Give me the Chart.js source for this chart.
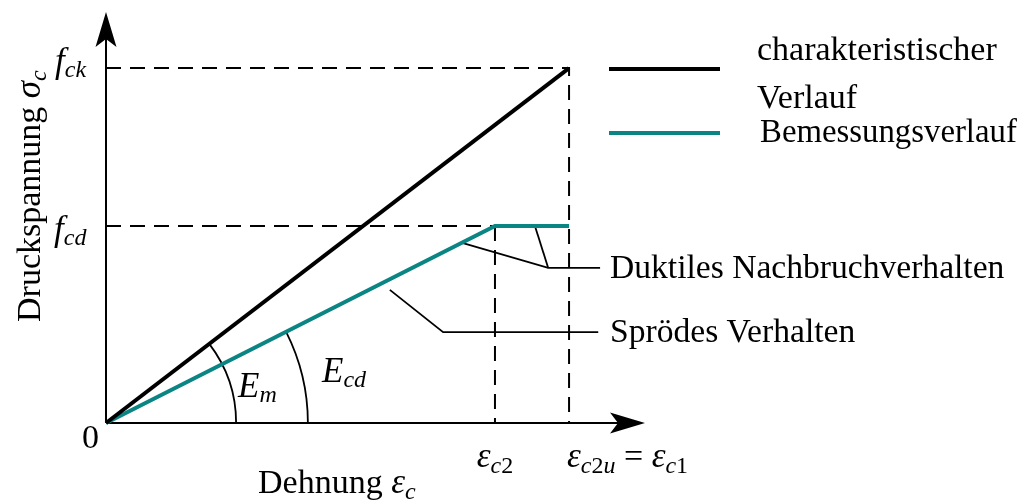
<!DOCTYPE html>
<html>
<head>
<meta charset="utf-8">
<script src="https://cdn.jsdelivr.net/npm/chart.js@4/dist/chart.umd.min.js"></script>
<style>
  html, body { margin: 0; padding: 0; background: #fff; }
  #wrap { width: 1019px; height: 502px; position: relative; }
</style>
</head>
<body>
<div id="wrap"><canvas id="diagram"></canvas></div>
<script>
// --- DATA (strain normalised to eps_c2u = 1, stress to f_ck = 1) ---
const strainTicks = [0, 0.84, 1.0];      // 0, eps_c2, eps_c2u
const stressTicks = [0, 0.555, 1.0];     // 0, f_cd, f_ck
const axisEnds = [1.164, 1.158];         // x, y arrow tips

const charStrain = [0, 1.0];
const charStress = [0, 1.0];
const designStrain = [0, 0.84, 1.0];
const designStress = [0, 0.555, 0.555];

// leader lines for the callout texts
const ductileLeaderA = [[0.771, 0.507], [0.955, 0.437], [1.067, 0.437]];
const ductileLeaderB = [[0.927, 0.552], [0.955, 0.437]];
const brittleLeader = [[0.613, 0.375], [0.728, 0.256], [1.063, 0.256]];

const TEAL = '#0b8484';
const SERIF = '"Liberation Serif", "DejaVu Serif", serif';

const toPoints = (xs, ys) => xs.map((x, i) => ({ x, y: ys[i] }));
const pairs = arr => arr.map(([x, y]) => ({ x, y }));

function lineSet(data, color, width, extra = {}) {
    return Object.assign({
        data, showLine: true, borderColor: color, borderWidth: width,
        pointRadius: 0, fill: false, clip: false, tension: 0
    }, extra);
}

const [EPS_C2, EPS_C2U] = [strainTicks[1], strainTicks[2]];
const [F_CD, F_CK] = [stressTicks[1], stressTicks[2]];
const dash = { borderDash: [15, 9], order: 5 };

// --- TEXT HELPERS ---
// runs: [text, size, baseline shift, italic]
function drawRuns(ctx, x, y, runs) {
    let cx = x;
    runs.forEach(([t, size, dy, it]) => {
        ctx.font = `${it ? 'italic ' : ''}${size}px ${SERIF}`;
        ctx.fillText(t, cx, y + dy);
        cx += ctx.measureText(t).width;
    });
    return cx - x;
}
function runsWidth(ctx, runs) {
    return runs.reduce((w, [t, size, , it]) => {
        ctx.font = `${it ? 'italic ' : ''}${size}px ${SERIF}`;
        return w + ctx.measureText(t).width;
    }, 0);
}

function arrowHead(ctx, tx, ty, dx, dy) {
    const len = 35, half = 10.5, notch = 8;
    const px = -dy, py = dx;
    ctx.beginPath();
    ctx.moveTo(tx, ty);
    ctx.lineTo(tx - dx * len + px * half, ty - dy * len + py * half);
    ctx.lineTo(tx - dx * (len - notch), ty - dy * (len - notch));
    ctx.lineTo(tx - dx * len - px * half, ty - dy * len - py * half);
    ctx.closePath();
    ctx.fill();
}

// axes, arrows, modulus arcs and all labels
const diagramPlugin = {
    id: 'diagram',
    beforeDatasetsDraw(chart) {
        const { ctx, scales: { x, y } } = chart;
        const x0 = x.getPixelForValue(0), y0 = y.getPixelForValue(0);
        const xt = x.getPixelForValue(axisEnds[0]), yt = y.getPixelForValue(axisEnds[1]);
        ctx.save();
        ctx.strokeStyle = '#000';
        ctx.fillStyle = '#000';
        ctx.lineWidth = 2;
        ctx.beginPath();
        ctx.moveTo(x0, y0); ctx.lineTo(xt - 20, y0);
        ctx.moveTo(x0, y0); ctx.lineTo(x0, yt + 20);
        ctx.stroke();
        arrowHead(ctx, xt, y0, 1, 0);
        arrowHead(ctx, x0, yt, 0, -1);

        // angle arcs for E_m and E_cd
        const arc = (radius, sx, sy) => {
            const r = x.getPixelForValue(radius) - x0;
            const a = Math.atan2(y0 - y.getPixelForValue(sy), x.getPixelForValue(sx) - x0);
            ctx.beginPath();
            ctx.arc(x0, y0, r, 0, -a, true);
            ctx.stroke();
        };
        ctx.lineWidth = 1.8;
        arc(0.281, charStrain[1], charStress[1]);
        arc(0.436, designStrain[1], designStress[1]);
        ctx.restore();
    },
    afterDatasetsDraw(chart) {
        const { ctx, scales: { x, y } } = chart;
        const x0 = x.getPixelForValue(0), y0 = y.getPixelForValue(0);
        const B = 34, M = 35, S = 24;
        ctx.save();
        ctx.fillStyle = '#000';
        ctx.textBaseline = 'alphabetic';
        ctx.textAlign = 'left';

        drawRuns(ctx, x0 - 24, y0 + 25, [['0', B, 0, false]]);
        drawRuns(ctx, x0 - 51, y.getPixelForValue(F_CK) + 4, [['f', M, 0, true], ['ck', S, 5, true]]);
        drawRuns(ctx, x0 - 52, y.getPixelForValue(F_CD) + 14, [['f', M, 0, true], ['cd', S, 5, true]]);

        const eps2 = [['ε', M, 0, true], ['c', S, 6, true], ['2', S, 6, false]];
        drawRuns(ctx, x.getPixelForValue(EPS_C2) - runsWidth(ctx, eps2) / 2, y0 + 44, eps2);
        drawRuns(ctx, x.getPixelForValue(EPS_C2U) - 2, y0 + 44, [
            ['ε', M, 0, true], ['c', S, 6, true], ['2', S, 6, false], ['u', S, 6, true],
            [' = ', B, 0, false], ['ε', M, 0, true], ['c', S, 6, true], ['1', S, 6, false]
        ]);

        drawRuns(ctx, 238, 397, [['E', M, 0, true], ['m', S, 5, true]]);
        drawRuns(ctx, 322, 382, [['E', M, 0, true], ['cd', S, 5, true]]);

        drawRuns(ctx, 258, 493, [['Dehnung ', B, 0, false], ['ε', M, 0, true], ['c', S, 6, true]]);

        ctx.save();
        ctx.translate(40, 322);
        ctx.rotate(-Math.PI / 2);
        drawRuns(ctx, 0, 0, [['Druckspannung ', B, 0, false], ['σ', M, 0, true], ['c', S, 6, true]]);
        ctx.restore();

        // callouts
        drawRuns(ctx, 610, 278, [['Duktiles Nachbruchverhalten', 33.6, 0, false]]);
        drawRuns(ctx, 610, 342, [['Sprödes Verhalten', 33.6, 0, false]]);

        // legend
        ctx.lineWidth = 4;
        ctx.strokeStyle = '#000';
        ctx.beginPath(); ctx.moveTo(609, 69); ctx.lineTo(720, 69); ctx.stroke();
        ctx.strokeStyle = TEAL;
        ctx.beginPath(); ctx.moveTo(609, 133); ctx.lineTo(720, 133); ctx.stroke();
        drawRuns(ctx, 757, 60, [['charakteristischer', B, 0, false]]);
        drawRuns(ctx, 757, 108, [['Verlauf', B, 0, false]]);
        drawRuns(ctx, 760, 142, [['Bemessungsverlauf', 32.8, 0, false]]);
        ctx.restore();
    }
};

new Chart(document.getElementById('diagram'), {
    type: 'scatter',
    data: {
        datasets: [
            lineSet(toPoints(charStrain, charStress), '#000', 4, { order: 0 }),
            lineSet(toPoints(designStrain, designStress), TEAL, 4, { order: 1, borderJoinStyle: 'miter' }),
            lineSet(pairs([[0, F_CK], [EPS_C2U, F_CK], [EPS_C2U, 0]]), '#000', 2, dash),
            lineSet(pairs([[0, F_CD], [EPS_C2, F_CD]]), '#000', 2, dash),
            lineSet(pairs([[EPS_C2, F_CD], [EPS_C2, 0]]), '#000', 2, dash),
            lineSet(pairs(ductileLeaderA), '#000', 1.8, { order: 3 }),
            lineSet(pairs(ductileLeaderB), '#000', 1.8, { order: 3 }),
            lineSet(pairs(brittleLeader), '#000', 1.8, { order: 3 })
        ]
    },
    options: {
        responsive: true,
        maintainAspectRatio: false,
        animation: false,
        layout: { padding: { left: 106, right: 374, top: 12, bottom: 79 } },
        plugins: { legend: { display: false }, tooltip: { enabled: false } },
        scales: {
            x: { type: 'linear', min: 0, max: axisEnds[0], display: false },
            y: { type: 'linear', min: 0, max: axisEnds[1], display: false }
        }
    },
    plugins: [diagramPlugin]
});
</script>
</body>
</html>
